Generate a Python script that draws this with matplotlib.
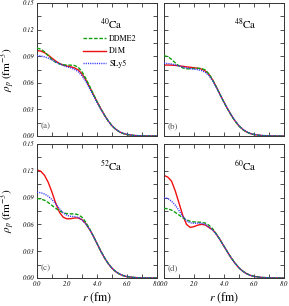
import matplotlib
matplotlib.use("Agg")
import matplotlib.pyplot as plt
from matplotlib.ticker import MultipleLocator, FormatStrFormatter

plt.rcParams["font.family"] = "STIXGeneral"
plt.rcParams["mathtext.fontset"] = "stix"

# radial grid (fm), shared by all curves
r = [0.0, 0.25, 0.5, 0.75, 1.0, 1.25, 1.5, 1.75, 2.0, 2.25, 2.5, 2.75, 3.0,
     3.25, 3.5, 3.75, 4.0, 4.25, 4.5, 4.75, 5.0, 5.25, 5.5, 5.75, 6.0,
     6.5, 7.0, 7.5, 8.0]

# proton densities (fm^-3)
ca40_ddme2 = [0.0990, 0.0980, 0.0950, 0.0905, 0.0862, 0.0830, 0.0812, 0.0804, 0.0800, 0.0799,
              0.0795, 0.0775, 0.0725, 0.0650, 0.0565, 0.0475, 0.0390, 0.0310, 0.0235, 0.0170,
              0.0115, 0.0075, 0.0047, 0.0028, 0.0016, 0.0005, 0.00015, 0.00004, 0.00001]
ca40_d1m = [0.0964, 0.0958, 0.0940, 0.0912, 0.0878, 0.0845, 0.0818, 0.0800, 0.0789, 0.0780,
            0.0768, 0.0745, 0.0700, 0.0635, 0.0555, 0.0470, 0.0388, 0.0310, 0.0235, 0.0170,
            0.0115, 0.0075, 0.0047, 0.0028, 0.0016, 0.0005, 0.00015, 0.00004, 0.00001]
ca40_sly5 = [0.0905, 0.0902, 0.0893, 0.0878, 0.0858, 0.0835, 0.0813, 0.0795, 0.0780, 0.0768,
             0.0752, 0.0725, 0.0680, 0.0615, 0.0538, 0.0457, 0.0378, 0.0303, 0.0232, 0.0169,
             0.0116, 0.0077, 0.0049, 0.0030, 0.0018, 0.0006, 0.0002, 0.00005, 0.00001]

ca48_ddme2 = [0.0905, 0.0895, 0.0865, 0.0825, 0.0790, 0.0768, 0.0758, 0.0758, 0.0762, 0.0765,
              0.0762, 0.0745, 0.0700, 0.0630, 0.0548, 0.0462, 0.0378, 0.0300, 0.0228, 0.0165,
              0.0112, 0.0073, 0.0045, 0.0027, 0.0016, 0.0005, 0.00015, 0.00004, 0.00001]
ca48_d1m = [0.0800, 0.0800, 0.0799, 0.0796, 0.0792, 0.0786, 0.0780, 0.0775, 0.0770, 0.0764,
            0.0755, 0.0735, 0.0695, 0.0630, 0.0550, 0.0465, 0.0382, 0.0303, 0.0230, 0.0167,
            0.0113, 0.0074, 0.0046, 0.0028, 0.0016, 0.0005, 0.00015, 0.00004, 0.00001]
ca48_sly5 = [0.0820, 0.0818, 0.0812, 0.0802, 0.0790, 0.0778, 0.0768, 0.0760, 0.0754, 0.0748,
             0.0738, 0.0718, 0.0680, 0.0620, 0.0545, 0.0463, 0.0382, 0.0305, 0.0233, 0.0170,
             0.0116, 0.0077, 0.0049, 0.0030, 0.0018, 0.0006, 0.0002, 0.00005, 0.00001]

ca52_ddme2 = [0.0890, 0.0885, 0.0870, 0.0845, 0.0812, 0.0780, 0.0752, 0.0730, 0.0720, 0.0718,
              0.0718, 0.0708, 0.0680, 0.0625, 0.0552, 0.0470, 0.0385, 0.0302, 0.0227, 0.0162,
              0.0110, 0.0072, 0.0045, 0.0027, 0.0016, 0.0005, 0.00015, 0.00004, 0.00001]
ca52_d1m = [0.1210, 0.1195, 0.1150, 0.1070, 0.0960, 0.0835, 0.0735, 0.0680, 0.0662, 0.0664,
            0.0672, 0.0672, 0.0652, 0.0610, 0.0545, 0.0470, 0.0385, 0.0300, 0.0225, 0.0160,
            0.0108, 0.0070, 0.0043, 0.0026, 0.0015, 0.0005, 0.00015, 0.00004, 0.00001]
ca52_sly5 = [0.0960, 0.0955, 0.0940, 0.0915, 0.0878, 0.0830, 0.0775, 0.0728, 0.0700, 0.0690,
             0.0688, 0.0678, 0.0650, 0.0605, 0.0545, 0.0470, 0.0386, 0.0302, 0.0227, 0.0162,
             0.0110, 0.0072, 0.0045, 0.0027, 0.0016, 0.0005, 0.00015, 0.00004, 0.00001]

ca60_ddme2 = [0.0780, 0.0775, 0.0760, 0.0735, 0.0705, 0.0675, 0.0650, 0.0635, 0.0628, 0.0626,
              0.0624, 0.0615, 0.0590, 0.0550, 0.0492, 0.0426, 0.0356, 0.0286, 0.0221, 0.0163,
              0.0114, 0.0077, 0.0050, 0.0031, 0.0019, 0.0006, 0.0002, 0.00006, 0.00002]
ca60_d1m = [0.1148, 0.1130, 0.1085, 0.0975, 0.0840, 0.0700, 0.0600, 0.0566, 0.0575, 0.0592,
            0.0600, 0.0594, 0.0565, 0.0540, 0.0488, 0.0424, 0.0355, 0.0285, 0.0220, 0.0162,
            0.0113, 0.0076, 0.0049, 0.0030, 0.0018, 0.0006, 0.0002, 0.00006, 0.00002]
ca60_sly5 = [0.0900, 0.0890, 0.0860, 0.0815, 0.0755, 0.0690, 0.0640, 0.0618, 0.0612, 0.0614,
             0.0612, 0.0600, 0.0570, 0.0535, 0.0486, 0.0423, 0.0355, 0.0285, 0.0220, 0.0162,
             0.0113, 0.0076, 0.0049, 0.0030, 0.0018, 0.0006, 0.0002, 0.00006, 0.00002]

nuclei = ["40", "48", "52", "60"]
letters = ["(a)", "(b)", "(c)", "(d)"]
data = [
    (ca40_ddme2, ca40_d1m, ca40_sly5),
    (ca48_ddme2, ca48_d1m, ca48_sly5),
    (ca52_ddme2, ca52_d1m, ca52_sly5),
    (ca60_ddme2, ca60_d1m, ca60_sly5),
]

W, H = 289, 306
fig = plt.figure(figsize=(W / 100, H / 100), dpi=100)

# panel boxes in pixels: (left, top, right, bottom)
boxes = [(37, 3, 157, 136), (164, 3, 284, 136),
         (37, 144, 157, 278), (164, 144, 284, 278)]
name_x = [0.62, 0.68, 0.62, 0.68]

GREEN = "#10a010"
RED = "#f01010"
BLUE = "#3030ff"

for k, (l, t, rr, b) in enumerate(boxes):
    ax = fig.add_axes([l / W, 1 - b / H, (rr - l) / W, (b - t) / H])
    dd, d1, sl = data[k]
    ax.plot(r, dd, color=GREEN, lw=1.0, dashes=(2.6, 1.2), label="DDME2", zorder=3)
    ax.plot(r, d1, color=RED, lw=1.0, label="D1M", zorder=2)
    ax.plot(r, sl, color=BLUE, lw=1.0, dashes=(0.8, 0.8), label="SLy5", zorder=4)

    ax.set_xlim(0, 8)
    ax.set_ylim(0, 0.15)
    ax.xaxis.set_major_locator(MultipleLocator(2))
    ax.xaxis.set_minor_locator(MultipleLocator(1))
    ax.yaxis.set_major_locator(MultipleLocator(0.03))
    ax.yaxis.set_minor_locator(MultipleLocator(0.015))
    ax.xaxis.set_major_formatter(FormatStrFormatter("%.1f"))
    ax.yaxis.set_major_formatter(FormatStrFormatter("%.2f"))
    ax.tick_params(which="both", direction="in", top=True, right=True,
                   length=2.6, width=0.6, color="#333333", labelsize=4.8, pad=2)
    for lab in ax.get_xticklabels() + ax.get_yticklabels():
        lab.set_fontstyle("italic")
    for s in ax.spines.values():
        s.set_linewidth(0.7)
        s.set_color("#333333")

    if k % 2 == 1:
        ax.tick_params(labelleft=False)
    else:
        ax.set_ylabel(r"$\rho_p\ (\mathrm{fm}^{-3})$", fontsize=8)
        ax.yaxis.set_label_coords(-0.155, 0.5)
    if k < 2:
        ax.tick_params(labelbottom=False)
    else:
        ax.set_xlabel(r"$r\ (\mathrm{fm})$", fontsize=8.5)
        ax.xaxis.set_label_coords(0.5, -0.09)

    ax.text(name_x[k], 0.84, r"$^{%s}$Ca" % nuclei[k], transform=ax.transAxes,
            ha="center", va="center", fontsize=8)
    ax.text(0.03, 0.07, letters[k], transform=ax.transAxes,
            ha="left", va="center", fontsize=6.5, color="#555555")

    if k == 0:
        ax.legend(loc="upper left", bbox_to_anchor=(0.38, 0.76), frameon=False,
                  fontsize=5.8, handlelength=2.9, handletextpad=0.4,
                  labelspacing=0.55, borderpad=0, borderaxespad=0)

fig.savefig("out.png", dpi=100)
